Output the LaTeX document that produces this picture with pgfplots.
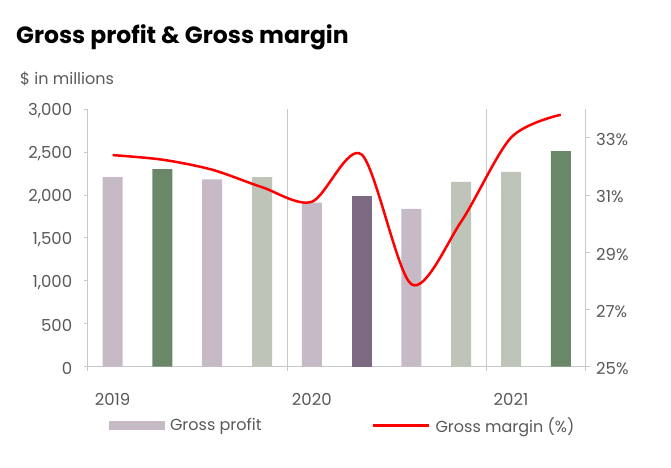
\documentclass[border=0pt]{standalone}
\usepackage{pgfplots}
\pgfplotsset{compat=1.18}
\usepackage{fontspec}
\setmainfont{Poppins}
\definecolor{tickgray}{HTML}{595959}
\definecolor{axisgray}{HTML}{C8C8C8}
\definecolor{lightbarA}{HTML}{C6BAC6}
\definecolor{lightbarB}{HTML}{BEC4B8}
\definecolor{darkgreen}{HTML}{6A8868}
\definecolor{darkpurple}{HTML}{7C6A82}
\definecolor{lineRed}{HTML}{FF0000}
\pgfplotsset{
  mybarlegend/.style={legend image code/.code={\fill[##1] (0pt,-4.5pt) rectangle (56pt,4.5pt);}},
  mylinelegend/.style={legend image code/.code={\draw[##1] (0pt,0pt) -- (56pt,0pt);}},
}
\begin{document}
\begin{tikzpicture}[x=1pt,y=1pt]
\useasboundingbox (0,0) rectangle (671,467);
\node[anchor=base west, inner sep=0pt, font=\fontsize{23.5}{28}\selectfont\bfseries] at (16,423.7) {Gross profit \& Gross margin};
\node[anchor=base west, inner sep=0pt, text=tickgray, font=\fontsize{16}{19}\selectfont] at (20,383) {\$ in millions};
\begin{axis}[
  at={(87.7pt,100.3pt)}, anchor=south west,
  scale only axis, width=498pt, height=257.7pt,
  xmin=-0.5, xmax=9.5, ymin=0, ymax=3000,
  axis y line*=left, axis x line*=bottom,
  axis line style={axisgray, line width=0.8pt, -},
  ytick={0,500,...,3000},
  xtick={0,4,8}, xticklabels={2019,2020,2021},
  x tick style={draw=none},
  y tick style={axisgray, line width=0.8pt},
  tick align=outside, major tick length=4pt,
  tick label style={text=tickgray, font=\fontsize{16.5}{19}\selectfont},
  /pgf/number format/assume math mode=true,
  /pgf/number format/1000 sep={,},
  yticklabel style={xshift=-8pt, yshift=-2pt},
  xticklabel style={yshift=-19pt},
  legend style={draw=none, fill=none, at={(axis description cs:0.0428,-0.228)}, anchor=west,
    inner sep=0pt, outer sep=0pt, font=\fontsize{16}{19}\selectfont, text=tickgray,
    nodes={inner sep=0pt},
    /tikz/every odd column/.append style={column sep=5pt},
    /tikz/every even column/.append style={column sep=108pt}},
  legend columns=2,
  clip=false,
]
\addplot[ybar, bar width=20pt, bar shift=0pt, fill=lightbarA, draw=none, mybarlegend] coordinates {(0,2208) (2,2182) (4,1909) (6,1836)};
\addlegendentry{\makebox[94pt][l]{Gross profit}}
\addplot[ybar, bar width=20pt, bar shift=0pt, fill=lightbarB, draw=none, forget plot] coordinates {(3,2208) (7,2151) (8,2267)};
\addplot[ybar, bar width=20pt, bar shift=0pt, fill=darkgreen, draw=none, forget plot] coordinates {(1,2301) (9,2511)};
\addplot[ybar, bar width=20pt, bar shift=0pt, fill=darkpurple, draw=none, forget plot] coordinates {(5,1987)};
\addlegendimage{mylinelegend, lineRed, line width=2.5pt}
\addlegendentry{Gross margin (\%)}
\draw[axisgray, line width=0.8pt] (axis cs:3.5,3000) -- (axis cs:3.5,0) -- ++(0pt,-4.5pt);
\draw[axisgray, line width=0.8pt] (axis cs:7.5,3000) -- (axis cs:7.5,0) -- ++(0pt,-4.5pt);
\draw[axisgray, line width=0.8pt] (axis cs:-0.5,0) -- ++(0pt,-4.5pt);
\draw[axisgray, line width=0.8pt] (axis cs:9.5,0) -- ++(0pt,-4.5pt);
\end{axis}
\begin{axis}[
  at={(87.7pt,100.3pt)}, anchor=south west,
  scale only axis, width=498pt, height=257.7pt,
  xmin=-0.5, xmax=9.5, ymin=25, ymax=34,
  axis y line*=right, axis x line=none,
  axis line style={axisgray, line width=0.8pt, -},
  ytick={25,27,...,33},
  yticklabel={\pgfmathprintnumber{\tick}\%},
  y tick style={axisgray, line width=0.8pt},
  tick align=outside, major tick length=4pt,
  tick label style={text=tickgray, font=\fontsize{16.5}{19}\selectfont},
  /pgf/number format/assume math mode=true,
  yticklabel style={xshift=3pt, yshift=-2pt},
  clip=false,
]
\addplot[lineRed, line width=2.5pt, smooth, tension=0.5] coordinates {
(0,32.39) (1,32.23) (2,31.88) (3,31.27) (4,30.76) (5,32.41) (6,27.88) (7,30.07) (8,33.0) (9,33.8)};
\end{axis}
\end{tikzpicture}
\end{document}
